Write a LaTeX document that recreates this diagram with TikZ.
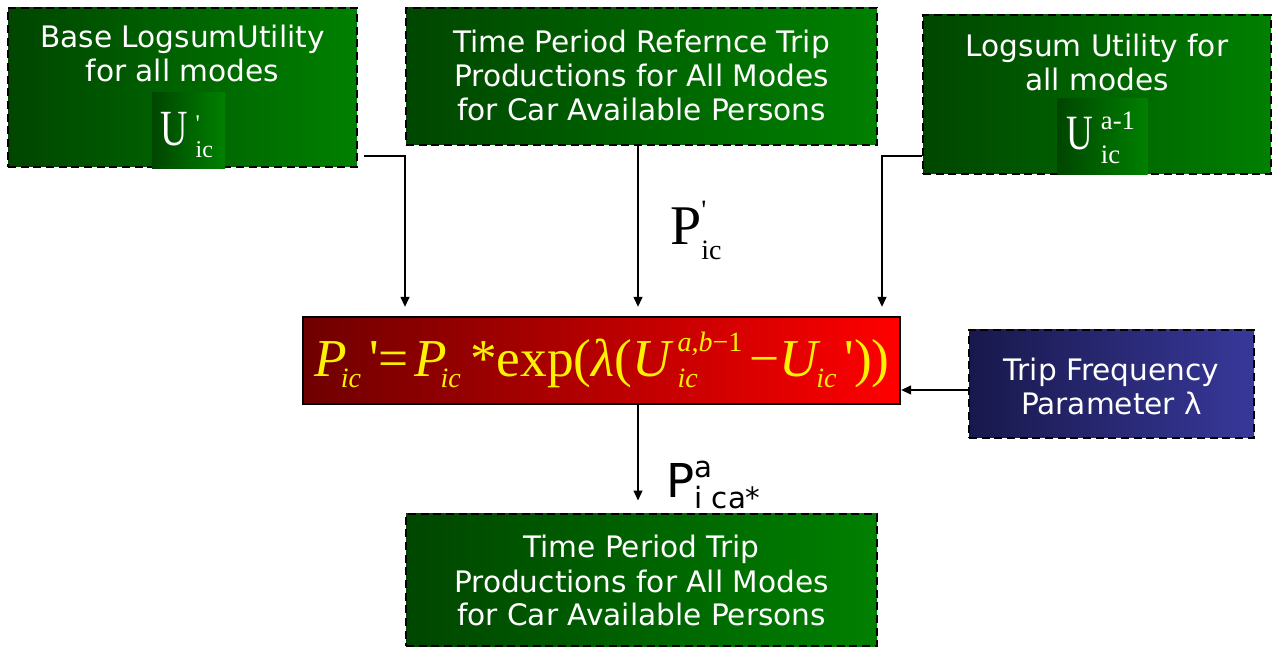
\documentclass[tikz,border=0pt]{standalone}
\usepackage{fontspec}
\usepackage{graphicx}
\newfontfamily\vsans{DejaVu Sans}
\newfontfamily\tms{Liberation Serif}
\usetikzlibrary{arrows.meta}
\definecolor{gL}{HTML}{004600}
\definecolor{gR}{HTML}{008000}
\definecolor{rL}{HTML}{6E0000}
\definecolor{rR}{HTML}{FF0000}
\definecolor{bL}{HTML}{18184C}
\definecolor{bR}{HTML}{38389A}
\newdimen\ssw
\newcommand\SupSub[5]{%
  \setbox0=\hbox{\fontsize{#1}{#1}\selectfont #4}%
  \setbox2=\hbox{\fontsize{#1}{#1}\selectfont #5}%
  \ssw=\wd0 \ifdim\wd2>\ssw \ssw=\wd2 \fi
  \rlap{\raisebox{#2}{\box0}}\rlap{\raisebox{-#3}{\box2}}\kern\ssw}
\newcommand\fsub[1]{\raisebox{-8.25pt}{\fontsize{21}{21}\selectfont\itshape #1}}
\tikzset{
  sz/.style 2 args={minimum width=#1*0.75pt, minimum height=#2*0.75pt, inner sep=0pt},
  dbox/.style={draw=black, dash pattern=on 6pt off 3.5pt, line width=2.1pt},
  gbox/.style={dbox, left color=gL, right color=gR},
  ubox/.style={left color=gL, right color=gR, inner sep=0pt},
  fbox/.style={draw=black, line width=1.6pt, left color=rL, right color=rR},
  tbox/.style={dbox, left color=bL, right color=bR},
  btext/.style={anchor=base, inner sep=0pt, text=white, font=\vsans\fontsize{22.2}{25.5}\selectfont},
  conn/.style={line width=1.5pt, -{Triangle[length=7.5pt,width=6.5pt]}},
}
\newcommand\lines[1]{\begin{tabular}[t]{@{}c@{}}#1\end{tabular}}
\begin{document}
\begin{tikzpicture}[x=0.75pt,y=-0.75pt]
\useasboundingbox (0,0) rectangle (1279,648);
% boxes
\node[gbox, sz={349}{159}] (b1) at (182.5,87.5) {};
\node[gbox, sz={471}{137}] (b2) at (641.5,76.5) {};
\node[gbox, sz={348}{159}] (b3) at (1097,94.5) {};
\node[fbox, sz={597}{87}] (f) at (601.5,360.5) {};
\node[tbox, sz={285}{108}] (b4) at (1111.5,384) {};
\node[gbox, sz={471}{132}] (b5) at (641.5,580) {};
\node[ubox, sz={73}{76}] (b1u) at (188.5,131) {};
\node[ubox, sz={90}{76}] (b3u) at (1102.5,137) {};
% texts
\node[btext] (t1) at (182.5,48) {\lines{Base LogsumUtility\\for all modes}};
\node[btext] (t2) at (641.5,53) {\lines{Time Period Refernce Trip\\Productions for All Modes\\for Car Available Persons}};
\node[btext] (t3) at (1097,57) {\lines{Logsum Utility for\\all modes}};
\node[btext] (t4) at (1111.5,381) {\lines{Trip Frequency\\Parameter λ}};
\node[btext] (t5) at (641.5,558) {\lines{Time Period Trip\\Productions for All Modes\\for Car Available Persons}};
\node[anchor=base west, inner sep=0pt, text=white, font=\tms\fontsize{38}{38}\selectfont] (u1) at (160,146)
  {\scalebox{0.75}[1]{U}\kern6pt\SupSub{18}{11pt}{9pt}{'}{ic}};
\node[anchor=base west, inner sep=0pt, text=white, font=\tms\fontsize{37}{37}\selectfont] (u3) at (1066,150)
  {\scalebox{0.75}[1]{U}\kern6pt\SupSub{20}{15pt}{10pt}{a-1}{ic}};
\node[anchor=base west, inner sep=0pt, text=yellow, font=\tms\fontsize{40}{40}\selectfont] (ftext) at (314,377)
  {\itshape P\kern-4.5pt\fsub{ic}\kern6pt\upshape'=\kern4pt\itshape P\kern-4.5pt\fsub{ic}\kern7pt\upshape*exp(\itshape λ\upshape(\itshape U\kern5pt\SupSub{21}{18.75pt}{8.25pt}{\itshape a,b\upshape−1}{\itshape ic}\kern5pt\upshape−\itshape U\kern-1pt\fsub{ic}\kern6pt\upshape'))};
\node[anchor=base west, inner sep=0pt, font=\tms\fontsize{42}{42}\selectfont] (lp) at (670,245)
  {P\SupSub{21}{19pt}{11pt}{'}{ic}};
\node[anchor=base west, inner sep=0pt, font=\vsans\fontsize{35}{35}\selectfont] (la) at (666,498)
  {P\SupSub{22}{15pt}{8.25pt}{a}{i ca*}};
% connectors
\coordinate (k1) at (405,0);
\coordinate (m) at (638,0);
\coordinate (k3) at (882,0);
\coordinate (h) at (0,390);
\draw[conn, shorten >=6.75pt] ([shift={(4.5pt,9pt)}]b1.south east) -| (k1 |- f.north);
\draw[conn, shorten >=6.75pt] (m |- b2.south) -- (m |- f.north);
\draw[conn, shorten >=6.75pt] ([yshift=14.25pt]b3.south west) -| (k3 |- f.north);
\draw[conn] (b4.west |- h) -- (f.east |- h);
\draw[conn, shorten >=9pt] (m |- f.south) -- (m |- b5.north);
\end{tikzpicture}
\end{document}
